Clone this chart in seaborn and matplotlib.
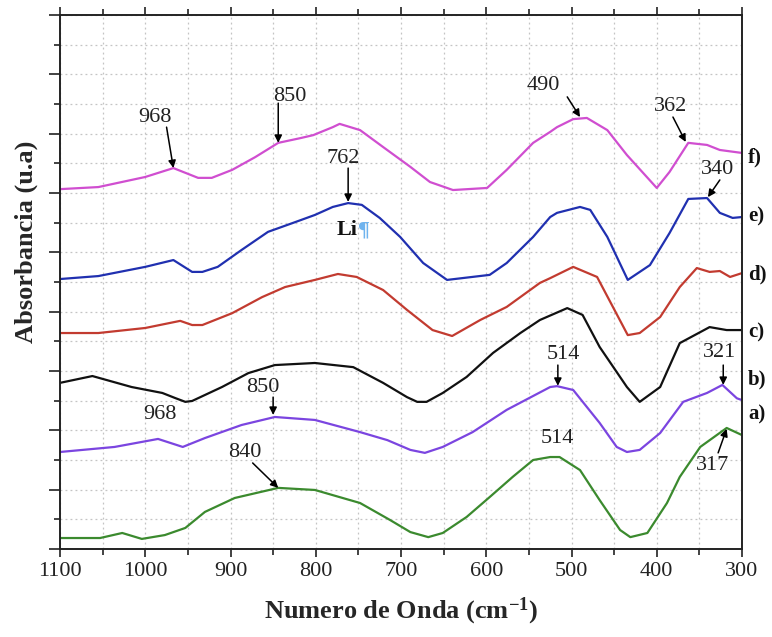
import numpy as np
import pandas as pd
import matplotlib
matplotlib.use("Agg")
import matplotlib.pyplot as plt
from matplotlib.ticker import MultipleLocator
import seaborn as sns

# ---------------- data ----------------
wn_f = [1100, 1055, 1000, 967, 938, 922, 898, 871, 844, 818, 803, 780, 772, 748, 721, 689,
        666, 639, 599, 576, 545, 525, 517, 498, 482, 458, 435, 400, 385, 363, 341, 326, 300]
ab_f = [12.13, 12.20, 12.54, 12.84, 12.51, 12.51, 12.78, 13.21, 13.69, 13.85, 13.95, 14.22,
        14.33, 14.12, 13.55, 12.88, 12.37, 12.10, 12.17, 12.78, 13.69, 14.06, 14.22, 14.49,
        14.53, 14.12, 13.28, 12.17, 12.71, 13.69, 13.62, 13.45, 13.35]

wn_e = [1100, 1055, 1000, 967, 945, 933, 915, 887, 856, 824, 801, 780, 762, 746, 725, 701,
        674, 646, 596, 576, 545, 525, 517, 490, 478, 458, 434, 408, 385, 363, 341, 326, 311, 300]
ab_e = [9.10, 9.20, 9.51, 9.74, 9.34, 9.34, 9.51, 10.08, 10.69, 11.02, 11.26, 11.53, 11.66,
        11.60, 11.16, 10.52, 9.64, 9.07, 9.24, 9.64, 10.52, 11.19, 11.33, 11.53, 11.43, 10.52,
        9.07, 9.57, 10.65, 11.80, 11.83, 11.33, 11.16, 11.19]

wn_d = [1100, 1055, 1000, 959, 945, 933, 898, 863, 836, 801, 774, 752, 721, 693, 663, 640,
        607, 576, 537, 525, 498, 470, 434, 420, 396, 373, 353, 338, 326, 314, 300]
ab_d = [7.28, 7.28, 7.45, 7.69, 7.55, 7.55, 7.95, 8.49, 8.83, 9.07, 9.27, 9.17, 8.73, 8.06,
        7.38, 7.18, 7.72, 8.16, 8.97, 9.13, 9.51, 9.17, 7.21, 7.28, 7.82, 8.83, 9.47, 9.34,
        9.37, 9.17, 9.30]

wn_c = [1100, 1062, 1016, 980, 965, 953, 945, 910, 879, 848, 801, 756, 721, 693, 681, 670,
        651, 623, 592, 560, 537, 505, 487, 467, 435, 420, 396, 373, 338, 318, 300]
ab_c = [5.60, 5.83, 5.46, 5.26, 5.09, 4.96, 4.99, 5.46, 5.93, 6.20, 6.27, 6.13, 5.60, 5.12,
        4.96, 4.96, 5.26, 5.80, 6.61, 7.28, 7.72, 8.12, 7.89, 6.81, 5.46, 4.96, 5.46, 6.94,
        7.48, 7.38, 7.38]

wn_b = [1100, 1036, 985, 956, 930, 887, 848, 801, 748, 716, 689, 672, 651, 616, 576, 525,
        517, 498, 467, 447, 435, 420, 396, 369, 341, 323, 306, 300]
ab_b = [3.27, 3.44, 3.71, 3.44, 3.74, 4.18, 4.45, 4.35, 3.94, 3.67, 3.34, 3.24, 3.44, 3.94,
        4.69, 5.46, 5.49, 5.36, 4.25, 3.44, 3.27, 3.34, 3.91, 4.96, 5.26, 5.53, 5.08, 5.02]

wn_a = [1100, 1053, 1027, 1004, 977, 953, 930, 895, 844, 801, 748, 713, 689, 668, 651, 623,
        596, 569, 545, 525, 514, 490, 467, 443, 431, 411, 388, 373, 349, 318, 300]
ab_a = [0.37, 0.37, 0.54, 0.34, 0.47, 0.71, 1.25, 1.72, 2.06, 1.99, 1.55, 0.98, 0.57, 0.40,
        0.54, 1.08, 1.75, 2.43, 3.00, 3.10, 3.10, 2.66, 1.65, 0.64, 0.40, 0.54, 1.55, 2.43,
        3.44, 4.08, 3.84]

samples = ["a)", "b)", "c)", "d)", "e)", "f)"]
wn_list = [wn_a, wn_b, wn_c, wn_d, wn_e, wn_f]
ab_list = [ab_a, ab_b, ab_c, ab_d, ab_e, ab_f]
colors = ["#3b8a2e", "#7b45e0", "#111111", "#c23b30", "#2030b0", "#d04ed0"]
label_y = [4.55, 5.7, 7.3, 9.25, 11.2, 13.2]

# annotations: (text, text_wn, text_y, arrow_start(wn,y) or None, arrow_end(wn,y))
annots = [
    ("968", 989, 14.56, (975, 14.22), (967, 12.84)),
    ("850", 830, 15.24, (844, 15.03), (844, 13.69)),
    ("762", 768, 13.15, (762, 12.84), (762, 11.70)),
    ("490", 533, 15.64, (505, 15.24), (490, 14.56)),
    ("362", 384, 14.90, (381, 14.56), (366, 13.72)),
    ("340", 329, 12.78, (326, 12.44), (340, 11.86)),
    ("968", 983, 4.52, None, None),
    ("850", 862, 5.46, (850, 5.12), (850, 4.52)),
    ("840", 883, 3.24, (874, 2.90), (844, 2.06)),
    ("514", 510, 6.54, (516, 6.20), (516, 5.50)),
    ("321", 326, 6.61, (322, 6.20), (322, 5.53)),
    ("514", 517, 3.74, None, None),
    ("317", 334, 2.83, (328, 3.24), (318, 4.05)),
]

# ---------------- build frame ----------------
rows = []
for s, w, a in zip(samples, wn_list, ab_list):
    for wi, ai in zip(w, a):
        rows.append((s, wi, ai))
df = pd.DataFrame(rows, columns=["sample", "wn", "abs"])

sns.set_theme(style="ticks")
plt.rcParams["font.family"] = ["Liberation Serif", "DejaVu Serif"]
plt.rcParams["mathtext.fontset"] = "custom"
plt.rcParams["mathtext.rm"] = "Liberation Serif:bold"
plt.rcParams["mathtext.default"] = "rm"

fig = plt.figure(figsize=(7.72, 6.37), dpi=100)
ax = fig.add_axes([60 / 772, 1 - 549 / 637, 682 / 772, 534 / 637])

sns.lineplot(data=df, x="wn", y="abs", hue="sample", palette=dict(zip(samples, colors)),
             hue_order=samples, estimator=None, sort=False, linewidth=1.6, legend=False, ax=ax)
for ln in ax.get_lines():
    ln.set_solid_joinstyle("round")

ax.set_xlim(1100, 300)
ax.set_ylim(0, 18)
ax.xaxis.set_major_locator(MultipleLocator(100))
ax.xaxis.set_minor_locator(MultipleLocator(50))
ax.yaxis.set_major_locator(MultipleLocator(2))
ax.yaxis.set_minor_locator(MultipleLocator(1))
ax.set_yticklabels([])
ax.grid(True, which="both", linestyle=(0, (1.5, 2.5)), color="#c4c4c4", linewidth=0.9)
ax.set_axisbelow(True)

ax.tick_params(axis="x", which="major", direction="out", length=6, width=1.2,
               labelsize=16, pad=3, top=True, colors="#222222", labelcolor="#222222")
ax.tick_params(axis="x", which="minor", direction="out", length=4, width=1.2, top=True,
               colors="#222222")
ax.tick_params(axis="y", which="major", direction="out", length=8, width=1.2,
               right=False, colors="#222222")
ax.tick_params(axis="y", which="minor", direction="out", length=4, width=1.2, right=False,
               colors="#222222")
for sp in ax.spines.values():
    sp.set_linewidth(1.4)
    sp.set_color("#222222")

ax.set_xlabel(r"Numero de Onda (cm$^{-1}$)", fontsize=19, fontweight="bold")
ax.xaxis.set_label_coords(0.5, -0.088)
ax.set_ylabel("Absorbancia (u.a)", fontsize=19, fontweight="bold")
ax.yaxis.set_label_coords(-0.032, 0.575)

for s, ly in zip(samples, label_y):
    ax.text(293, ly, s, fontsize=15, fontweight="bold", ha="left", va="center",
            clip_on=False, color="#111111")

for txt, tx, ty, a0, a1 in annots:
    ax.text(tx, ty, txt, fontsize=16, ha="center", va="center", color="#222222")
    if a0 is not None:
        ax.annotate("", xy=a1, xytext=a0,
                    arrowprops=dict(arrowstyle="-|>", color="black", lw=1.1,
                                    mutation_scale=11, shrinkA=0, shrinkB=0))

ax.text(751, 10.75, "Li", fontsize=16, fontweight="bold", ha="right", va="center", color="#111111")
ax.text(751, 10.75, "¶", fontsize=16, fontweight="bold", ha="left", va="center", color="#6fb3ee")

fig.savefig("out.png", dpi=100)
